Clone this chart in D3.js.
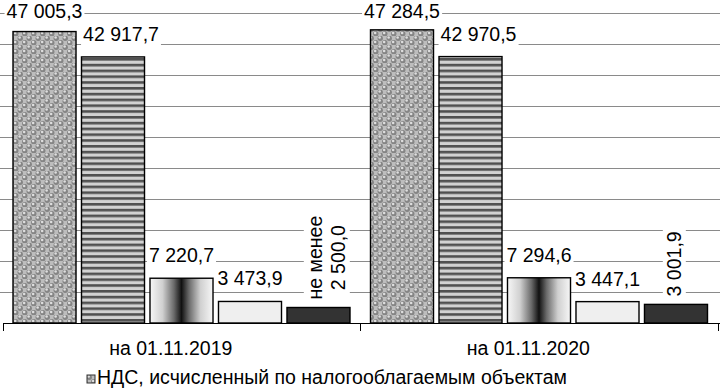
<!DOCTYPE html>
<html>
<head>
<meta charset="utf-8">
<script src="https://cdn.jsdelivr.net/npm/d3@7"></script>
<style>
  html, body { margin: 0; padding: 0; background: #fff; }
  svg { display: block; font-family: "Liberation Sans", Arial, sans-serif; }
</style>
</head>
<body>
<div id="chart"></div>
<script>
// --- data ---
const categories = ["на 01.11.2019", "на 01.11.2020"];
const ndsCalculated = [47005.3, 47284.5];
const series2 = [42917.7, 42970.5];
const series3 = [7220.7, 7294.6];
const series4 = [3473.9, 3447.1];
const series5 = [2500.0, 3001.9];
const series5Labels = [["не менее", "2 500,0"], ["3 001,9"]];
const legendItems = ["НДС, исчисленный по налогооблагаемым объектам"];
const yTicks = [5000, 10000, 15000, 20000, 25000, 30000, 35000, 40000, 45000, 50000];

const W = 721, H = 391;
const FONT = 19.5;

const allSeries = [ndsCalculated, series2, series3, series4, series5];
const fills = ["url(#dots)", "url(#stripes)", "url(#shine)", "#efefef", "#333333"];

const ru = d3.formatLocale({ decimal: ",", thousands: " ", grouping: [3], currency: ["", ""] });
const fmt = ru.format(",.1f");

const svg = d3.select("#chart").append("svg")
    .attr("width", W).attr("height", H);

// patterns
const defs = svg.append("defs");
const dots = defs.append("pattern").attr("id", "dots")
    .attr("patternUnits", "userSpaceOnUse").attr("width", 9).attr("height", 9);
dots.append("rect").attr("width", 9).attr("height", 9).attr("fill", "#bdbdbd");
[[2.25, 2.25], [6.75, 6.75], [-2.25, 6.75], [11.25, 2.25]].forEach(([cx, cy]) => {
    dots.append("circle").attr("cx", cx).attr("cy", cy).attr("r", 2.7).attr("fill", "#858585");
    dots.append("circle").attr("cx", cx - 0.6).attr("cy", cy - 0.7).attr("r", 1.3).attr("fill", "#dedede");
});
const stripes = defs.append("pattern").attr("id", "stripes")
    .attr("patternUnits", "userSpaceOnUse").attr("width", 6).attr("height", 5.8);
stripes.append("rect").attr("width", 6).attr("height", 5.8).attr("fill", "#d2d2d2");
stripes.append("rect").attr("y", 0).attr("width", 6).attr("height", 2.6).attr("fill", "#505050");
const shine = defs.append("linearGradient").attr("id", "shine");
[[0, "#f7f7f7"], [0.2, "#d0d0d0"], [0.38, "#6a6a6a"], [0.5, "#111"], [0.62, "#6a6a6a"], [0.8, "#d0d0d0"], [1, "#f7f7f7"]]
    .forEach(([o, c]) => shine.append("stop").attr("offset", o).attr("stop-color", c));

// scales
const x0 = d3.scaleBand().domain(categories).range([3, 718]);
const x1 = d3.scaleBand().domain(d3.range(allSeries.length)).range([10, 347]).paddingInner(0.08);
const y = d3.scaleLinear().domain([0, 50000]).range([323, 13]);

// gridlines
svg.append("g").selectAll("line").data(yTicks).join("line")
    .attr("x1", 0).attr("x2", 720)
    .attr("y1", d => Math.round(y(d)) + 0.5).attr("y2", d => Math.round(y(d)) + 0.5)
    .attr("stroke", "#8a8a8a").attr("stroke-width", 1);

// bars
const bars = [];
categories.forEach((c, ci) => {
    allSeries.forEach((s, si) => {
        bars.push({ c, ci, si, v: s[ci] });
    });
});
svg.append("g").selectAll("rect").data(bars).join("rect")
    .attr("x", d => x0(d.c) + x1(d.si))
    .attr("y", d => y(d.v))
    .attr("width", x1.bandwidth())
    .attr("height", d => y(0) - y(d.v))
    .attr("fill", d => fills[d.si])
    .attr("stroke", "#000").attr("stroke-width", 1.4);

// axis
const axis = svg.append("g");
axis.append("line").attr("x1", 3).attr("x2", 720).attr("y1", 323.5).attr("y2", 323.5)
    .attr("stroke", "#000");
axis.selectAll("line.tick").data([3, 360, 718]).join("line").attr("class", "tick")
    .attr("x1", d => d + 0.5).attr("x2", d => d + 0.5).attr("y1", 323).attr("y2", 331)
    .attr("stroke", "#000");
axis.selectAll("text").data(categories).join("text")
    .attr("x", d => x0(d) + x0.bandwidth() / 2 - 11)
    .attr("y", 355)
    .attr("text-anchor", "middle")
    .attr("font-size", FONT)
    .text(d => d);

// value labels
const labels = svg.append("g");
bars.forEach(d => {
    const cx = x0(d.c) + x1(d.si) + x1.bandwidth() / 2;
    const top = y(d.v);
    if (d.si < 4) {
        const g = labels.append("g");
        const rect = g.append("rect").attr("fill", "#fff");
        const t = g.append("text").attr("text-anchor", "middle").attr("font-size", FONT).text(fmt(d.v));
        const b = t.node().getBBox();
        // keep the label inside the picture at the top
        const base = Math.max(top - 16, -b.y);
        g.attr("transform", `translate(${cx + (d.si === 1 ? 8 : 0)},${base})`);
        rect.attr("x", b.x - 2).attr("y", b.y).attr("width", b.width + 4).attr("height", b.height + 1);
    } else {
        const lines = series5Labels[d.ci];
        const n = lines.length;
        const g = labels.append("g");
        const rect = g.append("rect").attr("fill", "#fff");
        const t = g.append("text").attr("text-anchor", "middle").attr("font-size", FONT);
        lines.forEach((ln, i) => {
            t.append("tspan").attr("x", 0)
                .attr("y", (i - (n - 1) / 2) * 23 + FONT * 0.35)
                .text(ln);
        });
        const b = t.node().getBBox();
        const gap = 8;
        const shift = n > 1 ? 8 : -2;
        g.attr("transform", `translate(${cx + shift},${top - gap - b.width / 2}) rotate(-90)`);
        rect.attr("x", b.x - 2).attr("y", b.y).attr("width", b.width + 4).attr("height", b.height + 1);
    }
});

// legend
const legend = svg.append("g").attr("transform", "translate(87,375)");
legend.append("rect").attr("width", 8).attr("height", 8)
    .attr("fill", "url(#dots)").attr("stroke", "#333").attr("stroke-width", 1);
legend.append("text").attr("x", 10).attr("y", 9)
    .attr("font-size", FONT).text(legendItems[0]);
</script>
</body>
</html>
